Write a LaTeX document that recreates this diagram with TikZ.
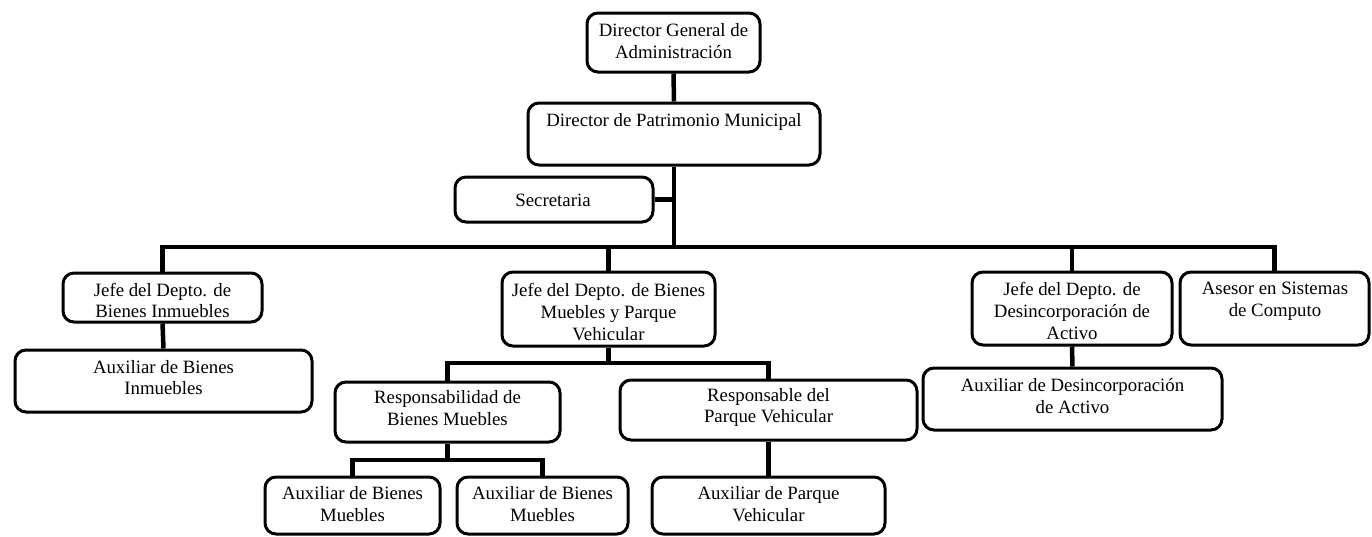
\documentclass[tikz,border=0pt]{standalone}
\usepackage{fontspec}
\setmainfont{Liberation Serif}
\usetikzlibrary{fit}
\tikzset{
  orgbox/.style={draw, line width=3pt, rounded corners=11pt, inner sep=0pt},
  lbl/.style={align=center, inner sep=0pt, font=\fontsize{18.8}{21.6}\selectfont},
  conn/.style={line width=4.5pt},
}
\begin{document}
\begin{tikzpicture}[x=1pt,y=-1pt]
\useasboundingbox (0,0) rectangle (1372,536);
% boxes
\node[orgbox, fit={(587,13) (760,72)}] (dg) {};
\node[orgbox, fit={(528,103) (820,165)}] (dp) {};
\node[orgbox, fit={(455,177) (653,222)}] (sec) {};
\node[orgbox, fit={(63,273) (262,322)}] (ji) {};
\node[orgbox, fit={(15,350) (312,412)}] (ai) {};
\node[orgbox, fit={(502,272) (715,346)}] (jbm) {};
\node[orgbox, fit={(972,272) (1172,345)}] (jd) {};
\node[orgbox, fit={(1180,272) (1369,345)}] (ase) {};
\node[orgbox, fit={(923,368) (1222,430)}] (ad) {};
\node[orgbox, fit={(335,382) (560,442)}] (rbm) {};
\node[orgbox, fit={(620,380) (917,440)}] (rpv) {};
\node[orgbox, fit={(265,477) (440,534)}] (abm1) {};
\node[orgbox, fit={(457,477) (628,534)}] (abm2) {};
\node[orgbox, fit={(652,477) (885,534)}] (apv) {};
% texts
\node[lbl] (dg-t) at (673.5,41) {Director General de\\Administración};
\node[lbl] (dp-t) at (674,122) {Director de Patrimonio Municipal};
\node[lbl] (sec-t) at (553,200) {Secretaria};
\node[lbl] (ji-t) at (162.5,300.5) {Jefe del Depto. de\\Bienes Inmuebles};
\node[lbl] (ai-t) at (163.5,377.5) {Auxiliar de Bienes\\Inmuebles};
\node[lbl] (jbm-t) at (608.5,312) {Jefe del Depto. de Bienes\\Muebles y Parque\\Vehicular};
\node[lbl] (jd-t) at (1072,311) {Jefe del Depto. de\\Desincorporación de\\Activo};
\node[lbl] (ase-t) at (1275,301) {Asesor en Sistemas\\de Computo};
\node[lbl] (ad-t) at (1072.5,396) {Auxiliar de Desincorporación\\de Activo};
\node[lbl] (rbm-t) at (447.5,408) {Responsabilidad de\\Bienes Muebles};
\node[lbl] (rpv-t) at (768.5,407.5) {Responsable del\\Parque Vehicular};
\node[lbl] (abm1-t) at (352.5,504) {Auxiliar de Bienes\\Muebles};
\node[lbl] (abm2-t) at (542.5,504) {Auxiliar de Bienes\\Muebles};
\node[lbl] (apv-t) at (768.5,504) {Auxiliar de Parque\\Vehicular};
% junctions
\coordinate (j) at (675,247);
\coordinate (k) at (608.5,363);
\coordinate (m) at (447.5,460);
% connectors
\draw[conn] (dg.south) -- (dp.north);
\draw[conn] (dp.south) -- (dp.south |- j);
\draw[conn] (sec.east) -- (sec.east -| dp.south);
\draw[conn] (ji.north) |- (j) -| (ase.north);
\draw[conn] (jbm.north) -- (jbm.north |- j);
\draw[conn] (jd.north) -- (jd.north |- j);
\draw[conn] (ji.south) -- (ai.north);
\draw[conn] (jd.south) -- (ad.north);
\draw[conn] (jbm.south) -- (k);
\draw[conn] (rbm.north) |- (k) -| (rpv.north);
\draw[conn] (rbm.south) -- (m);
\draw[conn] (abm1.north) |- (m) -| (abm2.north);
\draw[conn] (rpv.south) -- (apv.north);
\end{tikzpicture}
\end{document}
